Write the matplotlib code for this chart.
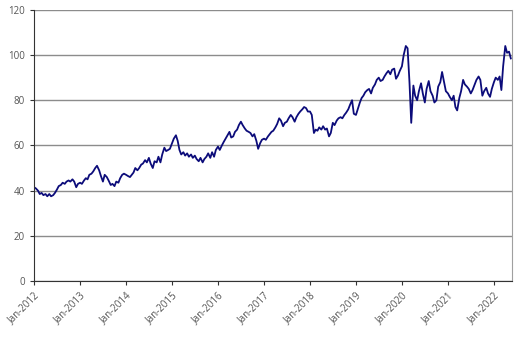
import numpy as np
import pandas as pd
import matplotlib
matplotlib.use("Agg")
import matplotlib.pyplot as plt
import matplotlib.dates as mdates

plt.rcParams['font.family'] = ['Open Sans', 'DejaVu Sans']

# index level, sampled on the 1st and 15th of each month
v2012 = [41.5, 41, 40, 38.5, 39, 38, 38.5, 37.5, 38.5, 37.5, 38, 39,
         40.5, 42, 42.5, 43.5, 43, 44, 44.5, 44, 45, 44, 41.5, 43]
v2013 = [43.5, 43, 44.5, 45.5, 45, 47, 47.5, 48.5, 50, 51, 49, 46.5,
         44, 47, 46, 44.5, 42.5, 43, 42, 44, 43.5, 45.5, 47, 47.5]
v2014 = [47, 46.5, 46, 47, 48, 50, 49, 50, 51.5, 52, 53.5, 52.5,
         54.5, 52, 50, 53, 52.5, 55, 52.5, 56, 59, 57.5, 58, 58.5]
v2015 = [61, 63, 64.5, 62, 58, 56, 57, 55.5, 56.5, 55, 56, 54.5,
         55.5, 54, 53, 54.5, 52.5, 54, 55, 56.5, 54.5, 57, 55, 58]
v2016 = [59.5, 58, 60, 61.5, 63, 64.5, 66, 63.5, 64, 66, 67, 69,
         70.5, 69, 67.5, 66.5, 66, 65.5, 64, 65, 62, 58.5, 61, 62.5]
v2017 = [63, 62.5, 64, 65, 66, 66.5, 68, 69.5, 72, 71, 68.5, 70,
         70.5, 72, 73.5, 72.5, 70.5, 72.5, 74, 75, 76, 77, 76.5, 75]
v2018 = [75, 73.5, 65.5, 67, 66.5, 68, 67, 68.5, 67, 67.5, 64, 65.5,
         70, 69, 71, 72, 72.5, 72, 73.5, 74.5, 76, 78, 80, 74]
v2019 = [73.5, 76, 79, 81, 82, 83.5, 84.5, 85, 83, 85.5, 87, 89,
         90, 88.5, 89, 90.5, 92, 93, 91.5, 93.5, 94, 89.5, 91, 93]
v2020 = [95, 100, 104, 103, 88, 70, 86.5, 82, 80, 84, 87.5, 83,
         79, 85, 88.5, 84, 82, 79, 80, 86, 88, 92.5, 88, 84]
v2021 = [83, 81.5, 80, 82, 77, 75.5, 81, 84, 89, 87, 86, 85,
         83, 84.5, 87, 89, 90.5, 89, 82, 84, 85.5, 83, 81.5, 85]
v2022 = [88, 90, 89, 90.5, 84.5, 95, 104, 101, 101.5, 98.5]

values = v2012 + v2013 + v2014 + v2015 + v2016 + v2017 + v2018 + v2019 + v2020 + v2021 + v2022
dates = pd.date_range("2012-01-01", periods=len(values), freq="SMS")

fig = plt.figure(figsize=(5.24, 3.39), dpi=100)
ax = fig.add_axes([0.065, 0.171, 0.912, 0.8])

ax.plot(dates, values, color="#0c0c7a", lw=1.3)

ax.set_ylim(0, 120)
ax.set_yticks(np.arange(0, 121, 20))
ax.set_xlim(pd.Timestamp("2012-01-01"), pd.Timestamp("2022-05-24"))
ax.xaxis.set_major_locator(mdates.YearLocator())
ax.xaxis.set_major_formatter(mdates.DateFormatter("%b-%Y"))

ax.grid(axis="y", color="#8c8c8c", lw=1.0)
ax.set_axisbelow(True)

ax.spines["top"].set_visible(False)
ax.spines["right"].set_color("#a0a0a0")
ax.spines["left"].set_color("#333333")
ax.spines["bottom"].set_color("#333333")

ax.tick_params(axis="both", colors="#333333", labelcolor="#555555",
               labelsize=7, length=3, width=0.8)
for lbl in ax.get_xticklabels():
    lbl.set_rotation(45)
    lbl.set_ha("right")
    lbl.set_rotation_mode("anchor")

fig.savefig("out.png", dpi=100)
